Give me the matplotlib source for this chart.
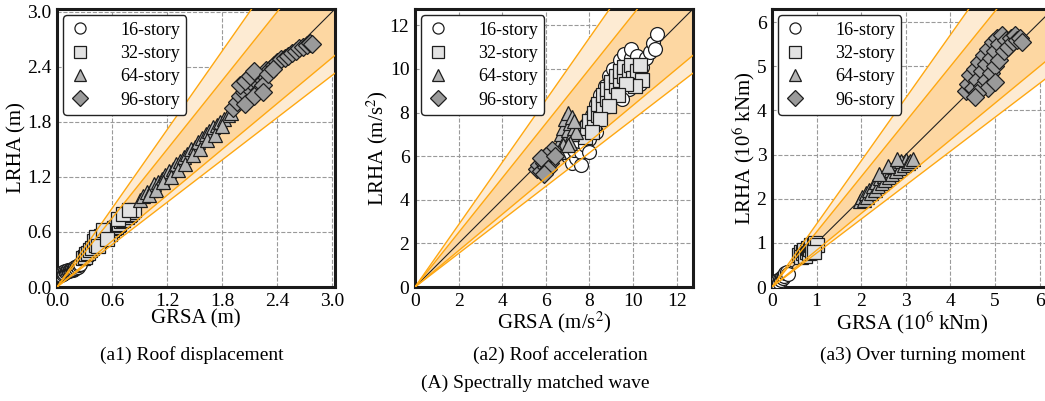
import matplotlib
matplotlib.use("Agg")
import matplotlib.pyplot as plt
import numpy as np

plt.rcParams["font.family"] = ["Liberation Serif", "DejaVu Serif"]
plt.rcParams["mathtext.fontset"] = "stix"

LABELS = ["16-story", "32-story", "64-story", "96-story"]
MARKERS = ["o", "s", "^", "D"]
FACES = ["#ffffff", "#e2e2e2", "#b4b4b4", "#9a9a9a"]

# bound slopes: LRHA = GRSA / r
OUTER = (0.7, 1.3)
INNER = (0.8, 1.2)

# (a1) roof displacement, metres
DISP_16_X = [0.04, 0.05, 0.06, 0.07, 0.08, 0.09, 0.10, 0.11, 0.12, 0.13, 0.14, 0.15, 0.16, 0.17,
             0.18, 0.19, 0.20, 0.21, 0.22, 0.23, 0.24, 0.25]
DISP_16_Y = [0.13, 0.15, 0.14, 0.16, 0.15, 0.17, 0.16, 0.17, 0.18, 0.17, 0.19, 0.18, 0.20, 0.19,
             0.21, 0.20, 0.22, 0.21, 0.23, 0.22, 0.24, 0.25]
DISP_32_X = [0.28, 0.30, 0.32, 0.34, 0.36, 0.38, 0.40, 0.42, 0.44, 0.46, 0.48, 0.50, 0.52, 0.54,
             0.56, 0.58, 0.60, 0.62, 0.64, 0.66, 0.68, 0.70, 0.72, 0.74, 0.76, 0.78, 0.80, 0.82,
             0.84, 0.42, 0.45, 0.50, 0.55, 0.66, 0.72, 0.78]
DISP_32_Y = [0.32, 0.33, 0.36, 0.37, 0.40, 0.42, 0.50, 0.46, 0.53, 0.50, 0.56, 0.53, 0.58, 0.56,
             0.60, 0.58, 0.62, 0.64, 0.65, 0.68, 0.69, 0.72, 0.73, 0.76, 0.76, 0.79, 0.80, 0.82,
             0.84, 0.55, 0.45, 0.62, 0.52, 0.74, 0.80, 0.84]
DISP_64_X = [0.90, 0.94, 0.98, 1.02, 1.06, 1.10, 1.14, 1.18, 1.22, 1.26, 1.30, 1.34, 1.38, 1.42,
             1.46, 1.50, 1.54, 1.58, 1.62, 1.66, 1.70, 1.74, 1.78, 1.82, 1.86, 1.90,
             1.00, 1.08, 1.16, 1.24, 1.32, 1.40, 1.48, 1.56, 1.64, 1.72, 1.80]
DISP_64_Y = [0.95, 0.99, 1.04, 1.06, 1.12, 1.14, 1.18, 1.22, 1.26, 1.29, 1.34, 1.37, 1.42, 1.45,
             1.50, 1.53, 1.58, 1.62, 1.67, 1.70, 1.74, 1.77, 1.80, 1.83, 1.87, 1.90,
             1.00, 1.06, 1.14, 1.20, 1.28, 1.34, 1.44, 1.50, 1.60, 1.66, 1.76]
DISP_96_X = [1.92, 1.96, 2.00, 2.04, 2.08, 2.12, 2.16, 2.20, 2.24, 2.28, 2.32, 2.36, 2.40, 2.44,
             2.48, 2.52, 2.56, 2.60, 2.64, 2.68, 2.72, 2.76, 2.78,
             2.00, 2.05, 2.10, 2.15, 2.20, 2.25, 2.30, 2.35, 2.05, 2.15, 2.25]
DISP_96_Y = [1.95, 2.02, 2.08, 2.12, 2.18, 2.22, 2.26, 2.30, 2.32, 2.36, 2.38, 2.42, 2.45, 2.48,
             2.50, 2.52, 2.55, 2.57, 2.60, 2.62, 2.64, 2.66, 2.65,
             2.20, 2.25, 2.30, 2.35, 2.15, 2.20, 2.32, 2.38, 2.00, 2.08, 2.12]

# (a2) roof acceleration, m/s^2
ACC_16_X = [7.0, 7.2, 7.4, 7.3, 7.6, 7.5, 7.8, 7.7, 8.0, 7.9, 8.2, 8.1, 8.4, 8.3, 8.6, 8.5, 8.8,
            8.7, 9.0, 8.9, 9.2, 9.1, 9.4, 9.4, 9.7, 9.6, 9.9, 9.9, 10.2, 10.1, 10.4, 10.6, 10.8,
            10.9, 11.1, 11.0, 10.3, 9.8, 8.3, 8.0, 7.6, 9.5]
ACC_16_Y = [6.0, 5.7, 5.9, 6.3, 6.2, 6.7, 6.5, 7.0, 6.8, 7.4, 7.3, 7.9, 7.8, 8.4, 8.2, 8.8, 8.6,
            9.2, 9.0, 9.7, 9.5, 10.0, 9.8, 10.4, 10.2, 10.7, 10.5, 10.9, 10.6, 9.6, 10.1, 10.5, 10.8,
            11.2, 11.6, 10.9, 9.3, 9.1, 7.1, 6.2, 5.6, 8.6]
ACC_32_X = [7.6, 7.8, 7.9, 8.0, 8.2, 8.2, 8.4, 8.4, 8.6, 8.6, 8.8, 8.8, 9.0, 9.0, 9.2, 9.2, 9.4,
            9.4, 9.6, 9.6, 9.8, 9.9, 10.0, 10.2, 10.3, 10.4, 10.1, 9.7, 9.3, 8.9, 8.5, 8.1]
ACC_32_Y = [7.0, 6.9, 7.3, 7.6, 7.5, 8.0, 7.9, 8.4, 8.3, 8.8, 8.6, 9.1, 8.9, 9.4, 9.2, 9.7, 9.5,
            9.9, 9.7, 10.1, 9.9, 10.2, 9.6, 9.9, 10.2, 9.5, 9.2, 9.3, 8.8, 8.3, 7.7, 7.1]
ACC_64_X = [6.5, 6.6, 6.7, 6.8, 6.9, 7.0, 6.9, 7.0, 7.1, 7.2, 7.2, 7.3, 7.4, 7.1, 6.8, 6.6, 7.0, 7.3]
ACC_64_Y = [6.3, 6.6, 7.0, 7.3, 7.7, 8.0, 6.8, 7.2, 7.5, 7.8, 7.0, 7.3, 7.1, 6.6, 6.5, 6.2, 6.5, 7.6]
ACC_96_X = [5.6, 5.7, 5.8, 5.9, 6.0, 6.1, 6.2, 6.2, 6.3, 6.0, 5.8, 6.1, 5.9, 6.4]
ACC_96_Y = [5.4, 5.6, 5.3, 5.7, 5.5, 5.9, 5.7, 6.1, 6.3, 6.0, 5.9, 5.4, 5.2, 6.0]

# (a3) overturning moment, 10^6 kNm
OTM_16_X = [0.04, 0.06, 0.08, 0.10, 0.12, 0.14, 0.16, 0.18, 0.20, 0.22, 0.24, 0.26, 0.28, 0.30,
            0.33, 0.35]
OTM_16_Y = [0.05, 0.10, 0.06, 0.12, 0.09, 0.15, 0.12, 0.19, 0.16, 0.22, 0.20, 0.27, 0.25, 0.31,
            0.33, 0.30]
OTM_32_X = [0.60, 0.64, 0.66, 0.70, 0.72, 0.74, 0.78, 0.80, 0.82, 0.86, 0.88, 0.90, 0.94, 0.96,
            1.00, 0.95]
OTM_32_Y = [0.72, 0.80, 0.68, 0.76, 0.84, 0.70, 0.80, 0.88, 0.76, 0.86, 0.95, 0.82, 0.92, 1.00,
            0.96, 0.80]
OTM_64_X = [1.98, 2.02, 2.06, 2.10, 2.14, 2.18, 2.22, 2.26, 2.30, 2.34, 2.38, 2.42, 2.46, 2.50,
            2.54, 2.58, 2.62, 2.66, 2.70, 2.74, 2.78, 2.82, 2.86, 2.90, 2.95, 3.00, 3.05, 3.10,
            3.15, 2.40, 2.60, 2.80]
OTM_64_Y = [1.96, 2.05, 1.98, 2.12, 2.04, 2.20, 2.12, 2.30, 2.20, 2.38, 2.28, 2.46, 2.36, 2.52,
            2.42, 2.58, 2.50, 2.65, 2.56, 2.72, 2.62, 2.80, 2.70, 2.85, 2.76, 2.88, 2.82, 2.85,
            2.90, 2.55, 2.75, 2.90]
OTM_96_X = [4.35, 4.40, 4.45, 4.50, 4.55, 4.60, 4.65, 4.70, 4.70, 4.75, 4.80, 4.80, 4.85, 4.90,
            4.90, 4.95, 5.00, 5.00, 5.05, 5.10, 5.10, 5.15, 5.20, 5.25, 5.30, 5.35, 5.40, 5.45,
            5.50, 5.55, 5.60, 4.85, 5.00, 4.60, 4.55]
OTM_96_Y = [4.45, 4.60, 4.80, 4.50, 4.95, 4.70, 5.10, 4.55, 4.90, 5.25, 4.70, 5.05, 5.40, 4.85,
            5.20, 5.55, 5.00, 5.35, 5.65, 5.15, 5.50, 5.70, 5.35, 5.60, 5.45, 5.65, 5.55, 5.70,
            5.60, 5.65, 5.55, 4.50, 4.65, 4.40, 4.30]

PANELS = [
    dict(series=[(DISP_16_X, DISP_16_Y), (DISP_32_X, DISP_32_Y), (DISP_64_X, DISP_64_Y), (DISP_96_X, DISP_96_Y)],
         lim=3.03, ticks=[0.0, 0.6, 1.2, 1.8, 2.4, 3.0], fmt="{:.1f}",
         xlabel="GRSA (m)", ylabel="LRHA (m)", caption="(a1) Roof displacement"),
    dict(series=[(ACC_16_X, ACC_16_Y), (ACC_32_X, ACC_32_Y), (ACC_64_X, ACC_64_Y), (ACC_96_X, ACC_96_Y)],
         lim=12.75, ticks=[0, 2, 4, 6, 8, 10, 12], fmt="{:d}",
         xlabel="GRSA (m/s$^2$)", ylabel="LRHA (m/s$^2$)", caption="(a2) Roof acceleration"),
    dict(series=[(OTM_16_X, OTM_16_Y), (OTM_32_X, OTM_32_Y), (OTM_64_X, OTM_64_Y), (OTM_96_X, OTM_96_Y)],
         lim=6.3, ticks=[0, 1, 2, 3, 4, 5, 6], fmt="{:d}",
         xlabel="GRSA (10$^6$ kNm)", ylabel="LRHA (10$^6$ kNm)", caption="(a3) Over turning moment"),
]

W, H = 1045, 401
fig = plt.figure(figsize=(W / 100, H / 100), dpi=100)
lefts = [57, 415, 772]


def draw_panel(ax, panel):
    lim = panel["lim"]
    xs = np.array([0.0, lim * 2])
    ax.fill_between(xs, xs / OUTER[1], xs / OUTER[0], color="#fdebd3", lw=0, zorder=1)
    ax.fill_between(xs, xs / INNER[1], xs / INNER[0], color="#fdd7a2", lw=0, zorder=1.1)
    ax.plot(xs, xs, color="#222222", lw=0.8, zorder=1.5)

    for (x, y), label, m, fc in zip(panel["series"], LABELS, MARKERS, FACES):
        size = 10 if m != "D" else 9
        ax.plot(x, y, ls="none", marker=m, ms=size, mfc=fc, mec="#1e1e1e", mew=0.9,
                label=label, zorder=3)

    for r in OUTER + INNER:
        ax.plot(xs, xs / r, color="#ffa812", lw=1.0, zorder=4)

    ax.set_xlim(0, lim)
    ax.set_ylim(0, lim)
    ax.set_xticks(panel["ticks"])
    ax.set_yticks(panel["ticks"])
    labels = [panel["fmt"].format(t) for t in panel["ticks"]]
    ax.set_xticklabels(labels)
    ax.set_yticklabels(labels)
    ax.tick_params(axis="x", labelsize=14, length=0, pad=4)
    ax.tick_params(axis="y", labelsize=14, length=0, pad=4)
    ax.grid(True, ls="--", color="#9a9a9a", lw=0.8, zorder=0)
    ax.set_axisbelow(True)
    for s in ax.spines.values():
        s.set_linewidth(2.2)
        s.set_color("#1a1a1a")
    ax.set_xlabel(panel["xlabel"], fontsize=15, labelpad=0)
    ax.set_ylabel(panel["ylabel"], fontsize=15, labelpad=0)

    leg = ax.legend(loc="upper left", fontsize=13, frameon=True, fancybox=True,
                    borderpad=0.35, handletextpad=1.6, labelspacing=0.35,
                    handlelength=1.2, borderaxespad=0.35)
    leg.get_frame().set_edgecolor("#222222")
    leg.get_frame().set_linewidth(1.0)
    leg.get_frame().set_alpha(1)
    for h in leg.legend_handles:
        h.set_markersize(8)


for left, panel in zip(lefts, PANELS):
    size = 278 if left != 772 else 281
    ax = fig.add_axes([left / W, (H - 287) / H, size / W, 278 / H])
    draw_panel(ax, panel)

fig.text(192 / W, (H - 355) / H, PANELS[0]["caption"], ha="center", va="center", fontsize=14)
fig.text(560 / W, (H - 355) / H, PANELS[1]["caption"], ha="center", va="center", fontsize=14)
fig.text(923 / W, (H - 355) / H, PANELS[2]["caption"], ha="center", va="center", fontsize=14)
fig.text(535 / W, (H - 383) / H, "(A) Spectrally matched wave", ha="center", va="center", fontsize=14)

fig.savefig("out.png", dpi=100)
